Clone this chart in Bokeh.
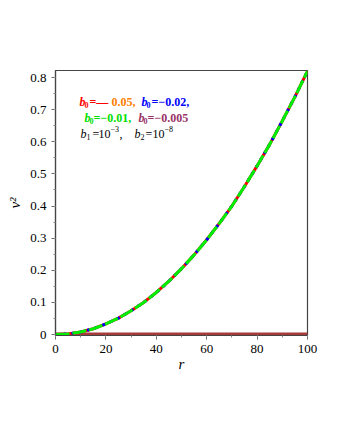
from bokeh.plotting import figure
from bokeh.models import Range1d, Label, SingleIntervalTicker
from bokeh.embed import file_html
from bokeh.resources import INLINE

# data
r_vals = [0, 5, 10, 15, 20, 25, 30, 35, 40, 45, 50, 55, 60, 65, 70, 75, 80, 85, 90, 95, 100]
v2_b0_005 = [0.0, 0.002, 0.008, 0.018, 0.033, 0.051, 0.074, 0.100, 0.131, 0.166, 0.205,
             0.248, 0.295, 0.346, 0.400, 0.461, 0.525, 0.592, 0.665, 0.740, 0.820]
v2_b0_002 = [0.0, 0.002, 0.008, 0.018, 0.033, 0.051, 0.074, 0.100, 0.131, 0.166, 0.205,
             0.248, 0.295, 0.346, 0.400, 0.461, 0.525, 0.592, 0.665, 0.740, 0.820]
v2_b0_001 = [0.0, 0.002, 0.008, 0.018, 0.033, 0.051, 0.074, 0.100, 0.131, 0.166, 0.205,
             0.248, 0.295, 0.346, 0.400, 0.461, 0.525, 0.592, 0.665, 0.740, 0.820]
v2_b0_0005 = [0.0] * len(r_vals)

SERIF = "Liberation Serif"

p = figure(width=324, height=424, output_backend="svg", toolbar_location=None,
           x_range=Range1d(0, 100), y_range=Range1d(-0.003, 0.822),
           min_border_left=55, min_border_right=17, min_border_top=70, min_border_bottom=89)
p.grid.visible = False
p.outline_line_color = "#444444"
p.outline_line_width = 1.2

p.line(r_vals, v2_b0_0005, line_color="#a83a3a", line_width=4)
p.line(r_vals, v2_b0_005, line_color="#ff0000", line_width=3)
p.line(r_vals, v2_b0_002, line_color="#0000ff", line_width=3, line_dash="3 5")
p.line(r_vals, v2_b0_001, line_color="#00ee00", line_width=3, line_dash="14 3")

p.xaxis.ticker = SingleIntervalTicker(interval=20, num_minor_ticks=2)
p.yaxis.ticker = SingleIntervalTicker(interval=0.1, num_minor_ticks=2)
for ax in (p.xaxis[0], p.yaxis[0]):
    ax.axis_line_color = "#444444"
    ax.axis_line_width = 1.2
    ax.major_tick_line_color = "#666666"
    ax.minor_tick_line_color = "#888888"
    ax.major_tick_in = 0
    ax.major_tick_out = 4
    ax.minor_tick_in = 0
    ax.minor_tick_out = 2
    ax.major_label_text_font = SERIF
    ax.major_label_text_font_size = "13px"
    ax.major_label_text_color = "black"
    ax.axis_label_text_font = SERIF
    ax.axis_label_text_font_style = "italic"
    ax.axis_label_text_font_size = "15px"
    ax.axis_label_text_color = "black"
p.xaxis.axis_label = "r"
p.yaxis.axis_label = "v²"
p.xaxis.axis_label_standoff = 0
p.yaxis.axis_label_standoff = 4

# frame: left edge at page x=55, x=0..100 spans 252 px; y=0 at page y~334
def px2x(px):
    return (px - 55) / 2.52


def py2y(py):
    return (334 - py) / 321.0


def lab(px, py, text, color, size, style):
    p.add_layout(Label(x=px2x(px), y=py2y(py), text=text, text_color=color,
                       text_font=SERIF, text_font_size=f"{size}px",
                       text_font_style=style, text_baseline="alphabetic",
                       text_align="left"))


RED, ORANGE, BLUE, GREEN, MAROON = "#ff0000", "#ff8000", "#0000ff", "#00e000", "#993366"
B, S = 12, 8
# line 1
y1 = 102
lab(79, y1, "b", RED, B, "bold italic")
lab(84, y1 + 3, "0", RED, S, "bold")
lab(89, y1, "=—", RED, B, "bold")
lab(111, y1, "0.05,", ORANGE, B, "bold")
lab(141, y1, "b", BLUE, B, "bold italic")
lab(146, y1 + 3, "0", BLUE, S, "bold")
lab(151, y1, "=", BLUE, B, "bold")
lab(158, y1, "−0.02,", BLUE, B, "bold")
# line 2
y2 = 118
lab(84, y2, "b", GREEN, B, "bold italic")
lab(89, y2 + 3, "0", GREEN, S, "bold")
lab(93, y2, "=", GREEN, B, "bold")
lab(100, y2, "−0.01,", GREEN, B, "bold")
lab(138, y2, "b", MAROON, B, "bold italic")
lab(143, y2 + 3, "0", MAROON, S, "bold")
lab(147, y2, "=", MAROON, B, "bold")
lab(154, y2, "−0.005", MAROON, B, "bold")
# line 3
y3 = 134
lab(80, y3, "b", "black", B, "italic")
lab(86, y3 + 3, "1", "black", S, "normal")
lab(92, y3, "=", "black", B, "normal")
lab(98, y3, "10", "black", B, "normal")
lab(110, y3 - 5, "−3", "black", S, "normal")
lab(119, y3, ",", "black", B, "normal")
lab(134, y3, "b", "black", B, "italic")
lab(140, y3 + 3, "2", "black", S, "normal")
lab(145, y3, "=", "black", B, "normal")
lab(152, y3, "10", "black", B, "normal")
lab(164, y3 - 5, "−8", "black", S, "normal")

open("out.html", "w").write(file_html(p, INLINE))
